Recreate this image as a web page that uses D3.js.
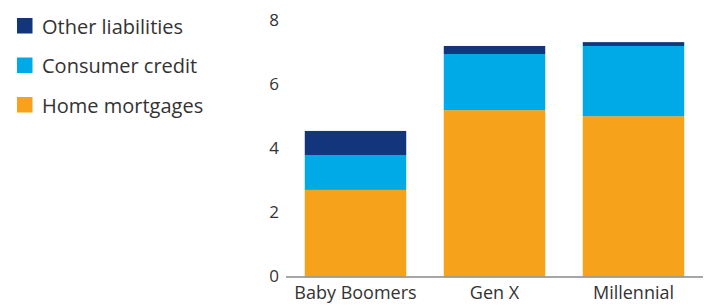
<!DOCTYPE html>
<html>
<head>
<meta charset="utf-8">
<script src="https://cdn.jsdelivr.net/npm/d3@7"></script>
<style>
  body { margin: 0; background: #fff; }
  svg { display: block; font-family: "Open Sans", Lato, sans-serif; }
</style>
</head>
<body>
<svg id="chart" width="709" height="306"></svg>
<script>
const categories = ["Baby Boomers", "Gen X", "Millennial"];
const homeMortgages = [2.70, 5.19, 5.00];
const consumerCredit = [1.09, 1.75, 2.19];
const otherLiabilities = [0.75, 0.25, 0.12];
const seriesNames = ["Home mortgages", "Consumer credit", "Other liabilities"];
const seriesColors = ["#F7A21B", "#00AAE6", "#12357B"];
const yTicks = [0, 2, 4, 6, 8];

const svg = d3.select("#chart");
const rows = categories.map((c, i) => ({
  cat: c,
  "Home mortgages": homeMortgages[i],
  "Consumer credit": consumerCredit[i],
  "Other liabilities": otherLiabilities[i]
}));
const stack = d3.stack().keys(seriesNames)(rows);

const x = d3.scaleBand().domain(categories).range([286, 703]).paddingInner(0.27).paddingOuter(0.135);
const y = d3.scaleLinear().domain([0, 8]).range([276.5, 20]);
const color = d3.scaleOrdinal().domain(seriesNames).range(seriesColors);

svg.append("g").selectAll("g").data(stack).join("g")
  .attr("fill", d => color(d.key))
  .selectAll("rect").data(d => d).join("rect")
  .attr("x", d => x(d.data.cat))
  .attr("width", x.bandwidth())
  .attr("y", d => y(d[1]))
  .attr("height", d => y(d[0]) - y(d[1]));

// y tick labels
svg.append("g").selectAll("text").data(yTicks).join("text")
  .attr("x", 279).attr("y", d => y(d))
  .attr("dy", "0.35em")
  .attr("text-anchor", "end")
  .attr("font-size", 17)
  .attr("fill", "#333")
  .text(d => d);

// baseline
svg.append("line")
  .attr("x1", 286).attr("x2", 703)
  .attr("y1", y(0) + 0.5).attr("y2", y(0) + 0.5)
  .attr("stroke", "#888").attr("stroke-width", 1.5);

// category labels
svg.append("g").selectAll("text").data(categories).join("text")
  .attr("x", d => x(d) + x.bandwidth() / 2)
  .attr("y", 299)
  .attr("text-anchor", "middle")
  .attr("font-size", 18)
  .attr("fill", "#333")
  .text(d => d);

// legend
const legendOrder = ["Other liabilities", "Consumer credit", "Home mortgages"];
const lg = svg.append("g").selectAll("g").data(legendOrder).join("g")
  .attr("transform", (d, i) => `translate(17, ${18 + i * 39.5})`);
lg.append("rect").attr("width", 15.5).attr("height", 15.5).attr("fill", d => color(d));
lg.append("text").attr("x", 25).attr("y", 8.5).attr("dy", "0.35em")
  .attr("font-size", 20).attr("fill", "#333").text(d => d);
</script>
</body>
</html>
